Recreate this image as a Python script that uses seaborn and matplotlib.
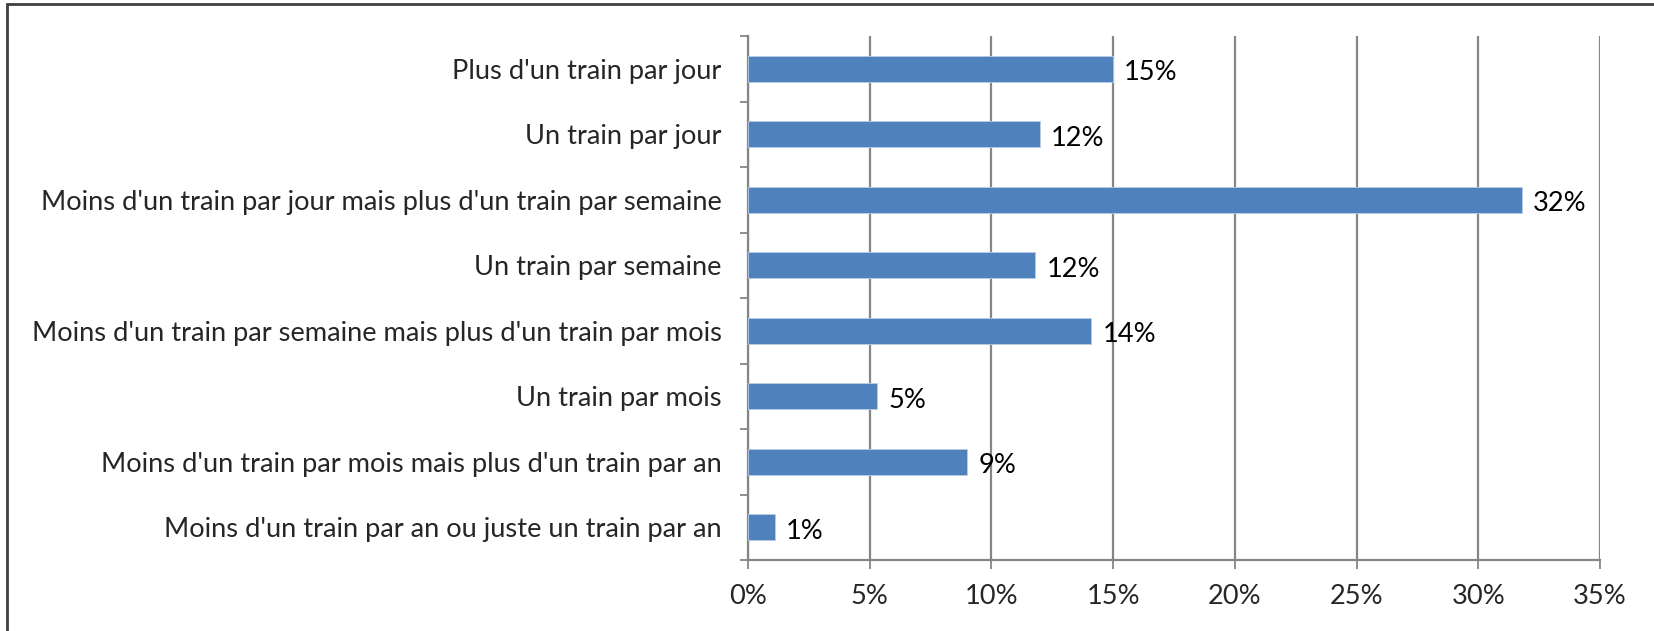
import matplotlib
matplotlib.use("Agg")
import matplotlib.pyplot as plt
import matplotlib.patches as mpatches
import seaborn as sns
import pandas as pd

# Data
categories = [
    "Plus d'un train par jour",
    "Un train par jour",
    "Moins d'un train par jour mais plus d'un train par semaine",
    "Un train par semaine",
    "Moins d'un train par semaine mais plus d'un train par mois",
    "Un train par mois",
    "Moins d'un train par mois mais plus d'un train par an",
    "Moins d'un train par an ou juste un train par an",
]
values = [15.0, 12.0, 31.8, 11.8, 14.1, 5.3, 9.0, 1.1]
labels = ["15%", "12%", "32%", "12%", "14%", "5%", "9%", "1%"]
x_ticks = [0, 5, 10, 15, 20, 25, 30, 35]
x_tick_labels = ["0%", "5%", "10%", "15%", "20%", "25%", "30%", "35%"]

df = pd.DataFrame({"categorie": categories, "part": values})

sns.set_style("white")
plt.rcParams["font.family"] = ["Lato", "DejaVu Sans"]

grid_col = "#868686"
bar_col = "#4F81BD"
fsize = 19.6

fig = plt.figure(figsize=(16.54, 6.31), dpi=100)
ax = fig.add_axes([748 / 1654, 1 - 560 / 631, (1600 - 748) / 1654, (560 - 36) / 631])

sns.barplot(data=df, y="categorie", x="part", orient="h", color=bar_col,
            width=0.4, saturation=1, ax=ax, zorder=3)
for p in ax.patches:
    p.set_edgecolor("#B9CDE5")
    p.set_linewidth(0.6)

ax.set_xlim(0, 35)
ax.set_ylim(len(categories) - 0.5, -0.5)

# vertical grid
ax.set_xticks(x_ticks)
ax.set_xticklabels(x_tick_labels, fontsize=fsize)
ax.xaxis.grid(True, color=grid_col, linewidth=1.6, zorder=0)
ax.set_axisbelow(True)
ax.tick_params(axis="x", direction="out", length=6.5, width=1.3, color=grid_col,
               pad=11, bottom=True)

# category labels, ticks at boundaries
ax.set_yticks(range(len(categories)))
ax.set_yticklabels(categories, fontsize=fsize)
ax.tick_params(axis="y", which="major", length=0, pad=19)
ax.set_yticks([i - 0.5 for i in range(len(categories) + 1)], minor=True)
ax.tick_params(axis="y", which="minor", direction="out", length=6, width=1.3,
               color=grid_col, left=True)

for side in ["top", "right"]:
    ax.spines[side].set_visible(False)
for side in ["left", "bottom"]:
    ax.spines[side].set_color(grid_col)
    ax.spines[side].set_linewidth(1.6)

ax.set_xlabel("")
ax.set_ylabel("")

# data labels
for i, (v, lab) in enumerate(zip(values, labels)):
    ax.annotate(lab, xy=(v, i), xytext=(8, -3), textcoords="offset points",
                ha="left", va="center", fontsize=fsize, color="black")

# outer frame
frame = mpatches.Rectangle((7 / 1654, -0.05), 1.1, 1 - 4 / 631 + 0.05,
                           transform=fig.transFigure, fill=False,
                           edgecolor="#404040", linewidth=2.0)
fig.patches.append(frame)

fig.savefig("out.png", dpi=100)
plt.close(fig)
